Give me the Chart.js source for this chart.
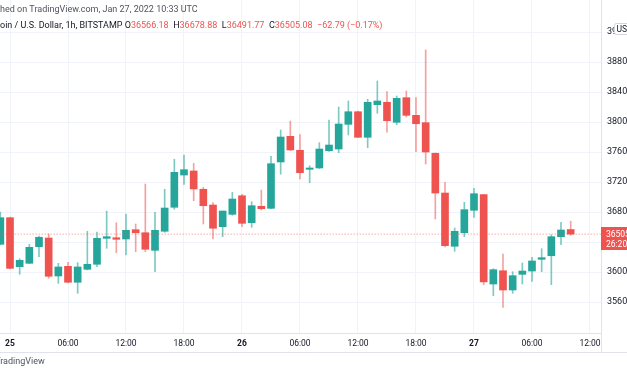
<!DOCTYPE html>
<html>
<head>
<meta charset="utf-8">
<script src="https://cdn.jsdelivr.net/npm/chart.js@4.4.0/dist/chart.umd.min.js"></script>
<style>
  html, body { margin: 0; padding: 0; background: #fff; overflow: hidden; }
  #wrap { position: relative; width: 627px; height: 376px; }
</style>
</head>
<body>
<div id="wrap"><canvas id="btc_canvas"></canvas></div>
<script>
// hours since Jan 25 00:00 UTC, one candle per hour (1h, BITSTAMP)
const hours = [-1, 0, 1, 2, 3, 4, 5, 6, 7, 8, 9, 10, 11, 12, 13, 14, 15, 16, 17, 18,
  19, 20, 21, 22, 23, 24, 25, 26, 27, 28, 29, 30, 31, 32, 33, 34, 35, 36, 37, 38,
  39, 40, 41, 42, 43, 44, 45, 46, 47, 48, 49, 50, 51, 52, 53, 54, 55, 56, 57, 58];

const opens = [36369, 36724, 36071, 36116, 36337, 36453, 35947, 36076, 35863, 36036,
  36103, 36449, 36457, 36440, 36564, 36524, 36289, 36543, 36863, 37293,
  37347, 37103, 36893, 36604, 36769, 37017, 36657, 36876, 36849, 37467,
  37809, 37623, 37369, 37387, 37617, 37640, 37969, 38137, 37796, 38231,
  38263, 37996, 38324, 38089, 37991, 37583, 37053, 36343, 36524, 36823,
  37031, 35840, 36017, 35760, 35969, 36013, 36169, 36217, 36471, 36566.18];
const highs = [36800, 36733, 36177, 36369, 36480, 36507, 36116, 36129, 36124, 36543,
  36533, 36813, 36657, 36773, 36640, 37173, 36796, 37103, 37503, 37560,
  37449, 37129, 36924, 36813, 37063, 37036, 36937, 37093, 37543, 37893,
  38013, 37831, 37417, 37724, 38027, 38200, 38280, 38147, 38303, 38547,
  38404, 38347, 38413, 38324, 38960, 37587, 37196, 36587, 36929, 37116,
  37033, 36044, 36240, 36004, 36120, 36196, 36311, 36497, 36663, 36678.88];
const lows = [36360, 36040, 35969, 36110, 36204, 35916, 35849, 35853, 35716, 36027,
  36071, 36316, 36257, 36227, 36271, 36271, 36004, 36529, 36836, 37169,
  36951, 36640, 36440, 36471, 36756, 36604, 36596, 36827, 36844, 37303,
  37620, 37240, 37191, 37380, 37609, 37591, 37827, 37791, 37657, 38116,
  37863, 37964, 38067, 37604, 37440, 36707, 36333, 36276, 36471, 36729,
  35831, 35684, 35527, 35716, 35840, 35876, 36004, 35831, 36364, 36491.77];
const closes = [36724, 36049, 36156, 36329, 36463, 35943, 36067, 35863, 36067, 36103,
  36449, 36471, 36436, 36556, 36524, 36303, 36556, 36853, 37329, 37364,
  37107, 36884, 36583, 36813, 36973, 36649, 36884, 36844, 37444, 37800,
  37627, 37324, 37387, 37640, 37693, 37973, 38137, 37796, 38263, 38280,
  38017, 38316, 38089, 37977, 37600, 37053, 36351, 36543, 36831, 37044,
  35867, 36031, 35760, 35951, 36013, 36147, 36191, 36471, 36560, 36505.08];

const xTickHours = [0, 6, 12, 18, 24, 30, 36, 42, 48, 54, 60];
const xTickLabels = ['25', '06:00', '12:00', '18:00', '26', '06:00', '12:00', '18:00', '27', '06:00', '12:00'];
const dayTicks = [0, 24, 48];
const yTicks = [35600, 36000, 36400, 36800, 37200, 37600, 38000, 38400, 38800, 39200];

const lastPrice = 36505.08;
const countdown = '26:20';

const UP = '#26a69a';
const DOWN = '#ef5350';
const UP_WICK = 'rgba(38,166,154,0.6)';
const DOWN_WICK = 'rgba(239,83,80,0.55)';
const FONT = 'Roboto, "Open Sans", sans-serif';
const TXT = '#131722';

const isUp = (i) => closes[i] >= opens[i];

const overlay = {
  id: 'overlay',
  afterDraw(chart) {
    const c = chart.ctx;
    const y = chart.scales.y;
    const area = chart.chartArea;
    c.save();

    // header
    c.textBaseline = 'middle';
    c.textAlign = 'left';
    c.font = '9px ' + FONT;
    c.fillStyle = '#50535e';
    let t1 = 'Published on TradingView.com, Jan 27, 2022 10:33 UTC';
    c.fillText(t1, -c.measureText('Publis').width, 10);

    let x = -c.measureText('Bitc').width;
    const parts = [
      ['Bitcoin / U.S. Dollar, 1h, BITSTAMP ', TXT],
      ['O', TXT], ['36566.18  ', DOWN],
      ['H', TXT], ['36678.88  ', DOWN],
      ['L', TXT], ['36491.77  ', DOWN],
      ['C', TXT], ['36505.08  ', DOWN],
      ['\u221262.79 (\u22120.17%)', DOWN]
    ];
    parts.forEach(([s, col]) => {
      c.fillStyle = col;
      c.fillText(s, x, 26);
      x += c.measureText(s).width;
    });

    // separator lines of the time axis / price axis
    c.strokeStyle = '#e0e3eb';
    c.lineWidth = 1;
    c.beginPath();
    c.moveTo(0, 352.5);
    c.lineTo(627, 352.5);
    c.moveTo(area.right + 0.5, area.bottom);
    c.lineTo(area.right + 0.5, 353);
    c.stroke();

    // last price label
    const py = Math.round(y.getPixelForValue(lastPrice));
    c.fillStyle = DOWN;
    c.fillRect(area.right, py - 7, 30, 23);
    c.fillStyle = '#fff';
    c.font = '8.5px ' + FONT;
    c.fillText(lastPrice.toFixed(2), area.right + 5, py + 1);
    c.fillText(countdown, area.right + 5, py + 11);

    // currency box
    c.fillStyle = '#fff';
    c.strokeStyle = '#d1d4dc';
    c.beginPath();
    c.roundRect(614.5, 23.5, 22, 11, 2);
    c.fill();
    c.stroke();
    c.fillStyle = TXT;
    c.font = '8.5px ' + FONT;
    c.fillText('USD', 616.5, 29.5);

    // footer
    c.fillStyle = '#50535e';
    c.font = '9px ' + FONT;
    c.fillText('TradingView', -c.measureText('T').width + 0.5, 362);

    c.restore();
  }
};

const canvas = document.getElementById('btc_canvas');

new Chart(canvas, {
  type: 'bar',
  data: {
    datasets: [
      {
        label: 'wick',
        data: hours.map((h, i) => ({ x: h, y: [lows[i], highs[i]] })),
        backgroundColor: hours.map((h, i) => isUp(i) ? UP_WICK : DOWN_WICK),
        barThickness: 1,
        grouped: false,
        order: 2
      },
      {
        label: 'body',
        data: hours.map((h, i) => ({ x: h, y: [opens[i], closes[i]] })),
        backgroundColor: hours.map((h, i) => isUp(i) ? UP : DOWN),
        barThickness: 7,
        minBarLength: 1,
        grouped: false,
        order: 1
      },
      {
        type: 'line',
        label: 'last',
        data: [{ x: -2, y: lastPrice }, { x: 62, y: lastPrice }],
        borderColor: 'rgba(239,83,80,0.7)',
        borderWidth: 1,
        borderDash: [1, 2],
        pointRadius: 0,
        order: 0
      }
    ]
  },
  options: {
    responsive: true,
    maintainAspectRatio: false,
    animation: false,
    events: [],
    layout: {
      padding: { left: 0, right: 0, top: 0, bottom: 23 }
    },
    scales: {
      x: {
        type: 'linear',
        offset: false,
        min: -1.0345,
        max: 61.138,
        afterBuildTicks: (scale) => {
          scale.ticks = xTickHours.map(v => ({ value: v }));
        },
        afterFit: (scale) => {
          scale.height = 20;
          scale.paddingLeft = 0;
          scale.paddingRight = 0;
        },
        grid: { color: '#f0f3fa', drawTicks: false, offset: false },
        border: { color: '#e0e3eb' },
        ticks: {
          autoSkip: false,
          maxRotation: 0,
          padding: 6,
          color: TXT,
          font: (ctx) => ({
            family: FONT,
            size: 8.5,
            weight: ctx.tick && dayTicks.includes(ctx.tick.value) ? 'bold' : 'normal'
          }),
          callback: (v) => xTickLabels[xTickHours.indexOf(v)]
        }
      },
      y: {
        position: 'right',
        min: 35186.7,
        max: 39626.7,
        afterBuildTicks: (scale) => {
          scale.ticks = yTicks.map(v => ({ value: v }));
        },
        afterFit: (scale) => {
          scale.width = 26;
          scale.paddingTop = 0;
          scale.paddingBottom = 0;
        },
        grid: { color: '#f0f3fa', drawTicks: false },
        border: { color: '#e0e3eb' },
        ticks: {
          padding: 6,
          color: TXT,
          font: { family: FONT, size: 9 },
          callback: (v) => String(v)
        }
      }
    },
    plugins: {
      legend: { display: false },
      tooltip: { enabled: false }
    }
  },
  plugins: [overlay]
});
</script>
</body>
</html>
